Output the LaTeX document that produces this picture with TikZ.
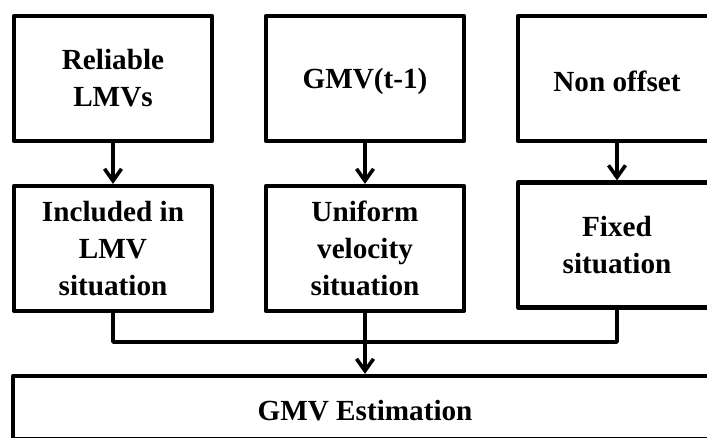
\documentclass[tikz,border=0pt]{standalone}
\usepackage{fontspec}
\setmainfont{Liberation Serif}
\usetikzlibrary{arrows.meta}
\begin{document}
\begin{tikzpicture}[x=1pt,y=-1pt,
  blk/.style={draw,line width=4.2pt,line join=round,minimum width=198pt,minimum height=125pt,
    inner sep=0pt,align=center,font=\fontsize{29.2}{37}\selectfont\bfseries,
    execute at begin node={\rule{0pt}{27pt}}},
  link/.style={line width=3.6pt},
  arr/.style={link,-{Straight Barb[length=12pt,width=17pt,line width=3.6pt]}}]
\clip (0,0) rectangle (707,437);
% inputs
\node[blk] (rel) at (113,78.5) {Reliable\\LMVs};
\node[blk] (gmv) at (365,78.5) {GMV(t-1)};
\node[blk] (non) at (617,78.5) {Non offset};
% situations
\node[blk] (inc) at (113,248.5) {Included in\\LMV\\situation};
\node[blk] (uni) at (365,248.5) {Uniform\\velocity\\situation};
\node[blk] (fix) at (617,245) {Fixed\\situation};
% estimation
\node[blk,minimum width=704pt,minimum height=63pt] (est) at (365,407.5) {GMV Estimation};
% connectors
\coordinate (join) at (365,342);
\draw[arr] (rel) -- (inc);
\draw[arr] (gmv) -- (uni);
\draw[arr] (non) -- (fix);
\draw[link,line join=round] (inc.south) |- (join);
\draw[link,line join=round] (fix.south) |- (join);
\draw[arr] (uni) -- (est);
\end{tikzpicture}
\end{document}
